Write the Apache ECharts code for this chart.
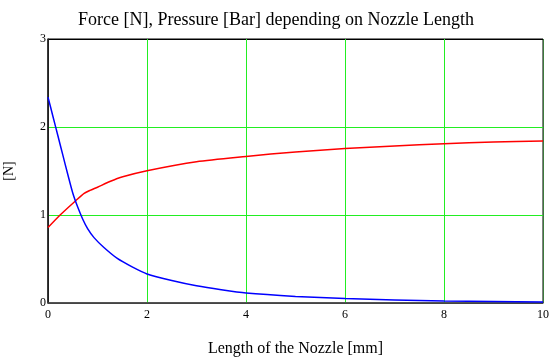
<!DOCTYPE html>
<html><head><meta charset="utf-8">
<script src="https://cdn.jsdelivr.net/npm/echarts@6/dist/echarts.min.js"></script>
<style>html,body{margin:0;padding:0;background:#fff}#c{width:552px;height:358px}</style>
</head><body><div id="c"></div>
<script>
var title = 'Force [N], Pressure [Bar] depending on Nozzle Length';
var xName = 'Length of the Nozzle [mm]';
var yName = '[N]';
var xTicks = [0, 2, 4, 6, 8, 10];
var yTicks = [0, 1, 2, 3];

var pressureX = [0, 0.1, 0.2, 0.3, 0.4, 0.5, 0.6, 0.7, 0.8, 0.93, 1.13, 1.40, 1.7, 2.0, 2.5, 3.0, 3.5, 4, 5, 6, 7, 8, 9, 10];
var pressureY = [2.34, 2.12, 1.90, 1.68, 1.46, 1.25, 1.09, 0.955, 0.845, 0.743, 0.63, 0.506, 0.41, 0.33, 0.255, 0.195, 0.15, 0.113, 0.075, 0.05, 0.035, 0.023, 0.017, 0.012];

var forceX = [0, 0.255, 0.565, 0.73, 0.85, 1.0, 1.25, 1.51, 2, 3, 4, 5, 6, 7, 8, 9, 10];
var forceY = [0.857, 1.005, 1.165, 1.245, 1.28, 1.316, 1.38, 1.434, 1.503, 1.605, 1.665, 1.717, 1.755, 1.785, 1.81, 1.83, 1.84];

function pairs(xs, ys){ return xs.map(function(x,i){ return [x, ys[i]]; }); }

var font = 'Liberation Serif';
var green = '#22ee22';
var chart = echarts.init(document.getElementById('c'));
chart.setOption({
  animation: false,
  backgroundColor: '#fff',
  title: { text: title, left: 'center', top: 6, textStyle: { fontFamily: font, fontSize: 18, fontWeight: 'normal', color: '#000' } },
  grid: { left: 48, right: 9, top: 39, bottom: 55, containLabel: false, outerBoundsMode: 'none', show: true, borderColor: '#000', borderWidth: 1, backgroundColor: 'transparent' },
  xAxis: {
    type: 'value', min: 0, max: 10, interval: 2,
    name: xName, nameLocation: 'middle', nameGap: 38,
    nameTextStyle: { fontFamily: font, fontSize: 16, color: '#000' },
    axisLine: { show: true, lineStyle: { color: '#444', width: 1.5 } },
    axisTick: { show: false },
    axisLabel: { fontFamily: font, fontSize: 12, color: '#000', margin: 6 },
    splitLine: { show: true, lineStyle: { color: ['#222', green, green, green, green, '#3c7a3c'], width: 1 } }
  },
  yAxis: {
    type: 'value', min: 0, max: 3, interval: 1,
    name: yName, nameLocation: 'middle', nameGap: 32, nameRotate: 90,
    nameTextStyle: { fontFamily: font, fontSize: 14, color: '#000' },
    axisLine: { show: true, lineStyle: { color: '#222', width: 1.5 } },
    axisTick: { show: false },
    axisLabel: { fontFamily: font, fontSize: 12, color: '#000', margin: 2 },
    splitLine: { show: true, lineStyle: { color: ['#444', green, green, '#000'], width: 1 } }
  },
  series: [{
    type: 'line', data: pairs(forceX, forceY), smooth: 0.25, showSymbol: false,
    lineStyle: { color: '#ff0000', width: 1.5 }, z: 3
  }, {
    type: 'line', data: pairs(pressureX, pressureY), smooth: 0.25, showSymbol: false,
    lineStyle: { color: '#0000ff', width: 1.5 }, z: 4
  }]
});
</script></body></html>
